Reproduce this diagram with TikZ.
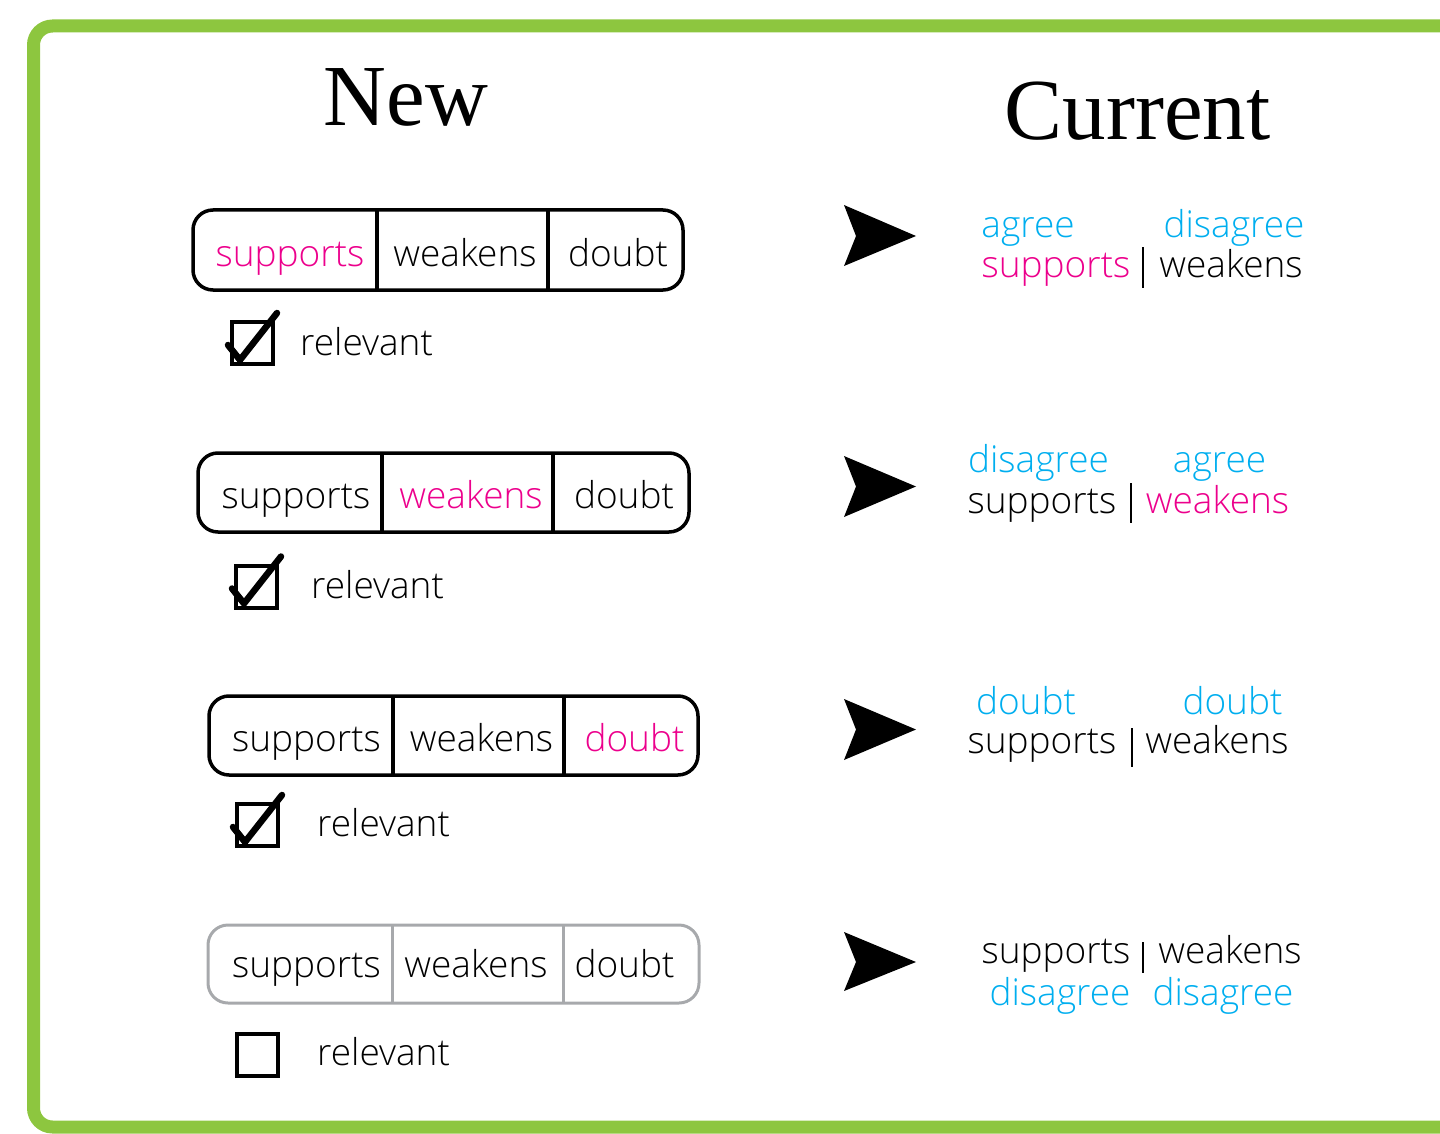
\documentclass[tikz,border=0pt]{standalone}
\usepackage{fontspec}
\setmainfont{Liberation Serif}
\newfontfamily\uifont{Open Sans Light}
\definecolor{framegreen}{HTML}{8DC63F}
\definecolor{pick}{HTML}{EC008C}
\definecolor{sky}{HTML}{00AEEF}
\definecolor{idle}{HTML}{A7A9AC}
\tikzset{
  ui/.style={font=\uifont\fontsize{37}{40}\selectfont, inner sep=0pt, anchor=base},
  uileft/.style={ui, anchor=base west},
  title/.style={font=\fontsize{87}{90}\selectfont, inner sep=0pt, anchor=base},
  segbar/.style={draw, line width=3.5pt, rounded corners=20pt, inner sep=0pt},
  segline/.style={line width=3.5pt},
  tickbox/.style={draw, line width=4pt, minimum width=41pt, minimum height=42pt, inner sep=0pt},
  tickmark/.style={line width=6.5pt, line cap=round, line join=round},
  pointer/.style={fill=black},
  sep/.style={line width=2.2pt},
}
% check mark drawn relative to a tick box node
\newcommand\tickin[1]{%
  \draw[tickmark] ([shift={(-2,2)}]#1.west) -- ([shift={(-12.5,-6)}]#1.south) -- ([shift={(2,-7)}]#1.north east);}
\begin{document}
\begin{tikzpicture}[x=1pt,y=-1pt]
\useasboundingbox (0,0) rectangle (1440,1134);
\clip (0,0) rectangle (1440,1134);
% outer frame, open to the right
\draw[framegreen, line width=13pt, rounded corners=19pt] (33.5,26) rectangle (1500,1127);

% column headings
\node[title] (hnew) at (406,126) {New};
\node[title] (hcur) at (1137.5,140) {Current};

% ---- row 1 ----
\node[segbar, minimum width=490pt, minimum height=80pt] (bar1) at (438,250) {};
\draw[segline] (377,210) -- (377,290);
\draw[segline] (548,210) -- (548,290);
\node[ui, pick] (s1) at (290,266) {supports};
\node[ui] (w1) at (465,266) {weakens};
\node[ui] (d1) at (618,266) {doubt};
\node[tickbox] (c1) at (252.5,343) {};
\tickin{c1}
\node[uileft] (r1) at (300,355) {relevant};

\fill[pointer] (844,205) -- (916,236) -- (844,266) -- (856,236) -- cycle;
\node[ui, sky] (t1a) at (1028,237) {agree};
\node[ui, sky] (t1b) at (1234,237) {disagree};
\node[ui, pick] (t1c) at (1056,277) {supports};
\draw[sep] (1143,247) -- (1143,288);
\node[ui] (t1d) at (1231,277) {weakens};

% ---- row 2 ----
\node[segbar, minimum width=491pt, minimum height=79pt] (bar2) at (443.5,492.5) {};
\draw[segline] (382,453) -- (382,532);
\draw[segline] (553,453) -- (553,532);
\node[ui] (s2) at (296,508) {supports};
\node[ui, pick] (w2) at (471,508) {weakens};
\node[ui] (d2) at (624,508) {doubt};
\node[tickbox] (c2) at (256.5,586.5) {};
\tickin{c2}
\node[uileft] (r2) at (311,598) {relevant};

\fill[pointer] (844,456) -- (916,486.5) -- (844,517) -- (856,486.5) -- cycle;
\node[ui, sky] (t2a) at (1038.5,472) {disagree};
\node[ui, sky] (t2b) at (1219.5,472) {agree};
\node[ui] (t2c) at (1042,513) {supports};
\draw[sep] (1131,483) -- (1131,523);
\node[ui, pick] (t2d) at (1217.5,513) {weakens};

% ---- row 3 ----
\node[segbar, minimum width=489pt, minimum height=79pt] (bar3) at (453.5,735.5) {};
\draw[segline] (393,696) -- (393,775);
\draw[segline] (564,696) -- (564,775);
\node[ui] (s3) at (306.5,751) {supports};
\node[ui] (w3) at (481.5,751) {weakens};
\node[ui, pick] (d3) at (634.5,751) {doubt};
\node[tickbox] (c3) at (257.5,825) {};
\tickin{c3}
\node[uileft] (r3) at (317,836) {relevant};

\fill[pointer] (844,699) -- (916,729.5) -- (844,760) -- (856,729.5) -- cycle;
\node[ui, sky] (t3a) at (1026,714) {doubt};
\node[ui, sky] (t3b) at (1232.5,714) {doubt};
\node[ui] (t3c) at (1042,753) {supports};
\draw[sep] (1132,728) -- (1132,767);
\node[ui] (t3d) at (1217,753) {weakens};

% ---- row 4 (inactive) ----
\node[segbar, idle, line width=3pt, minimum width=491pt, minimum height=78pt] (bar4) at (453.5,964) {};
\draw[idle, line width=3pt] (392,925) -- (392,1003);
\draw[idle, line width=3pt] (563,925) -- (563,1003);
\node[ui] (s4) at (306.5,977) {supports};
\node[ui] (w4) at (476,977) {weakens};
\node[ui] (d4) at (624.5,977) {doubt};
\node[tickbox] (c4) at (257,1055) {};
\node[uileft] (r4) at (317,1065) {relevant};

\fill[pointer] (844,932) -- (916,962) -- (844,991) -- (856,962) -- cycle;
\node[ui] (t4a) at (1056,963) {supports};
\draw[sep] (1143,942) -- (1143,973);
\node[ui] (t4b) at (1230,963) {weakens};
\node[ui, sky] (t4c) at (1060,1005) {disagree};
\node[ui, sky] (t4d) at (1223,1005) {disagree};
\end{tikzpicture}
\end{document}
